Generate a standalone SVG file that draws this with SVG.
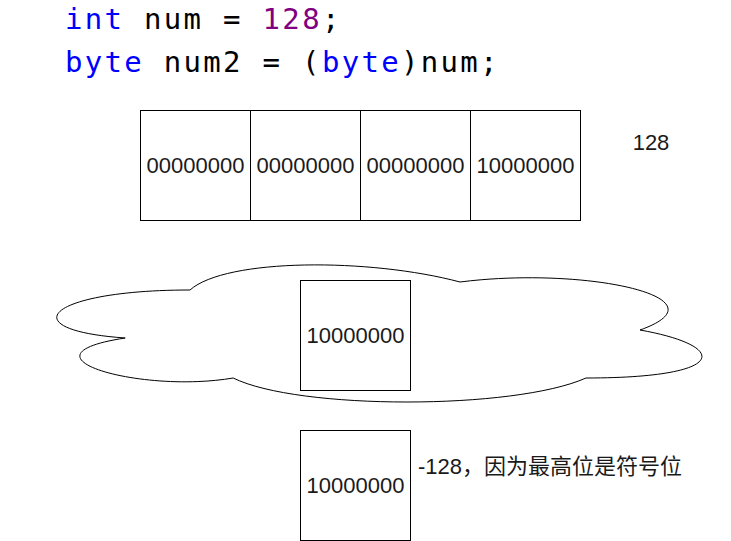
<svg xmlns="http://www.w3.org/2000/svg" width="731" height="541" viewBox="0 0 731 541">
  <style>
    .box { fill: #ffffff; stroke: #000000; stroke-width: 1; }
    .lbl { font-family: "Liberation Sans", Arial, "Noto Sans CJK SC", sans-serif; font-size: 22px; fill: #1a1a1a; }
    .mid { text-anchor: middle; }
    .code { font-family: "DejaVu Sans Mono", "Liberation Mono", monospace; font-size: 29px; letter-spacing: 2.3px; fill: #000000; }
    .kw { fill: #0000ff; }
    .num { fill: #800080; }
  </style>
  <rect x="0" y="0" width="731" height="541" fill="#ffffff"/>

  <g id="code">
    <text class="code" x="65" y="29"><tspan class="kw">int</tspan> num = <tspan class="num">128</tspan>;</text>
    <text class="code" x="65" y="72"><tspan class="kw">byte</tspan> num2 = (<tspan class="kw">byte</tspan>)num;</text>
  </g>

  <g id="int-bytes">
    <g id="byte1">
      <rect class="box" x="140.5" y="110.5" width="110" height="110"/>
      <text class="lbl mid" x="195.5" y="173">00000000</text>
    </g>
    <g id="byte2">
      <rect class="box" x="250.5" y="110.5" width="110" height="110"/>
      <text class="lbl mid" x="305.5" y="173">00000000</text>
    </g>
    <g id="byte3">
      <rect class="box" x="360.5" y="110.5" width="110" height="110"/>
      <text class="lbl mid" x="415.5" y="173">00000000</text>
    </g>
    <g id="byte4">
      <rect class="box" x="470.5" y="110.5" width="110" height="110"/>
      <text class="lbl mid" x="525.5" y="173">10000000</text>
    </g>
  </g>

  <g id="label-128">
    <text class="lbl mid" x="651" y="150">128</text>
  </g>

  <g id="cloud">
    <path class="box" d="M 190 290 C 46 290 10 330 125.2 338 C 10 355.6 139.6 394 233.2 378 C 298 410 514 410 586 378 C 730 378 730 346 640 330 C 730 298 586 266 460 282 C 370 258 226 258 190 290 Z"/>
  </g>

  <g id="cloud-byte">
    <rect class="box" x="300.5" y="280.5" width="110" height="110"/>
    <text class="lbl mid" x="355.5" y="343">10000000</text>
  </g>

  <g id="result-byte">
    <rect class="box" x="300.5" y="430.5" width="110" height="110"/>
    <text class="lbl mid" x="355.5" y="493">10000000</text>
  </g>

  <g id="result-label">
    <text class="lbl" x="418" y="474">-128，因为最高位是符号位</text>
  </g>

  <g id="connectors"></g>
</svg>
